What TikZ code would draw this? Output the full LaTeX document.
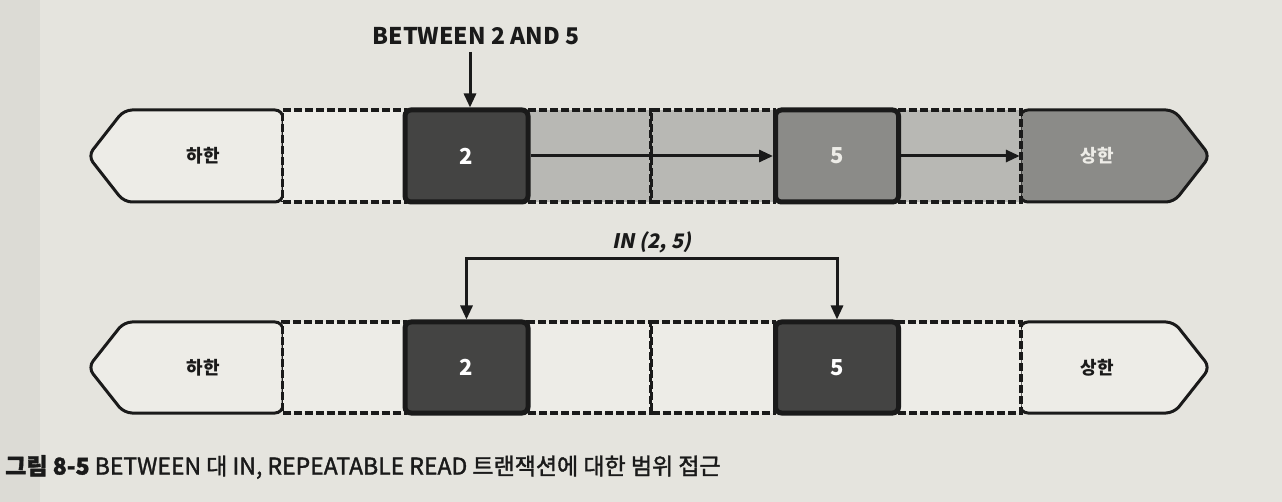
\documentclass[tikz,border=0pt]{standalone}
\usepackage{fontspec}
\setmainfont{Noto Sans CJK KR}
\newfontfamily\krslant[FakeSlant=0.2]{Noto Sans CJK KR}
\newfontfamily\krmed[FakeBold=1.6]{Noto Sans CJK KR}
\usetikzlibrary{arrows.meta}
\definecolor{paper}{HTML}{E5E4DE}
\definecolor{lightcell}{HTML}{EDECE7}
\definecolor{darkcell}{HTML}{444443}
\definecolor{midcell}{HTML}{B8B8B4}
\definecolor{graycell}{HTML}{8B8B88}
\definecolor{inkc}{HTML}{1A1A1A}
\tikzset{
  dcell/.style={draw=inkc, line width=3.2pt, dash pattern=on 8pt off 3pt,
    minimum width=123pt, minimum height=92pt, inner sep=0pt, fill=lightcell},
  scell/.style={draw=inkc, line width=5pt, rounded corners=6pt,
    minimum width=123pt, minimum height=92pt, inner sep=0pt},
  bound/.style={draw=inkc, line width=3pt, rounded corners=8pt},
  btext/.style={minimum width=155pt, minimum height=92pt, inner sep=0pt,
    font=\bfseries\fontsize{18}{20}\selectfont},
  numtext/.style={font=\bfseries\fontsize{22}{24}\selectfont},
  conn/.style={draw=inkc, line width=3pt, -{Triangle[length=14pt,width=12pt]}},
}
\begin{document}
\begin{tikzpicture}[x=1pt,y=-1pt]
\useasboundingbox (0,0) rectangle (1282,502);
\fill[paper] (0,0) rectangle (1282,502);
\fill[paper!85!black, opacity=0.25] (0,0) rectangle (40,502);

% ---------- top row ----------
\draw[bound, fill=lightcell] (283,110) -- (124,110) -- (88,156) -- (124,202) -- (283,202) -- cycle;
\draw[bound, fill=graycell] (1020,110) -- (1174,110) -- (1210,156) -- (1174,202) -- (1020,202) -- cycle;
\node[dcell] (tA) at (344,156) {};
\node[dcell, fill=midcell] (tB) at (589.5,156) {};
\node[dcell, fill=midcell] (tC) at (713,156) {};
\node[dcell, fill=midcell] (tD) at (959.5,156) {};
\node[scell, fill=darkcell, text=white, numtext] (t2) at (466.5,156) {2};
\node[scell, fill=graycell, text=lightcell, numtext] (t5) at (837,156) {5};
\node[btext, text=inkc] (tlo) at (203.5,156) {하한};
\node[btext, text=lightcell] (tup) at (1097.5,156) {상한};

\node[font=\bfseries\fontsize{23}{26}\selectfont, text=inkc] (betw) at (476,36) {BETWEEN 2 AND 5};
\coordinate (betwa) at (470,52);
\draw[conn] (betwa) -- (betwa |- t2.north);
\draw[conn] (t2.east) -- (t5.west);
\draw[conn] (t5.east) -- (tup.west);

% ---------- bottom row ----------
\draw[bound, fill=lightcell] (283,322) -- (124,322) -- (88,367.5) -- (124,413) -- (283,413) -- cycle;
\draw[bound, fill=lightcell] (1020,322) -- (1174,322) -- (1210,367.5) -- (1174,413) -- (1020,413) -- cycle;
\node[dcell, minimum height=91pt] (bA) at (344,367.5) {};
\node[dcell, minimum height=91pt] (bB) at (589.5,367.5) {};
\node[dcell, minimum height=91pt] (bC) at (713,367.5) {};
\node[dcell, minimum height=91pt] (bD) at (959.5,367.5) {};
\node[scell, minimum height=91pt, fill=darkcell, text=white, numtext] (b2) at (466.5,367.5) {2};
\node[scell, minimum height=91pt, fill=darkcell, text=white, numtext] (b5) at (837,367.5) {5};
\node[btext, minimum height=91pt, text=inkc] (blo) at (203.5,367.5) {하한};
\node[btext, minimum height=91pt, text=inkc] (bup) at (1097.5,367.5) {상한};

\node[font=\krslant\bfseries\fontsize{20}{22}\selectfont, text=inkc] (inl) at (652,242) {IN (2, 5)};
\coordinate (inmid) at (652,259);
\draw[conn, {Triangle[length=14pt,width=12pt]}-{Triangle[length=14pt,width=12pt]}]
  (b2.north) |- (inmid) -| (b5.north);

% ---------- caption ----------
\node[anchor=west, font=\krmed\fontsize{23}{26}\selectfont, text=inkc, inner sep=0pt] (cap) at (5,467)
  {{\bfseries 그림 8-5} BETWEEN 대 IN, REPEATABLE READ 트랜잭션에 대한 범위 접근};
\end{tikzpicture}
\end{document}
